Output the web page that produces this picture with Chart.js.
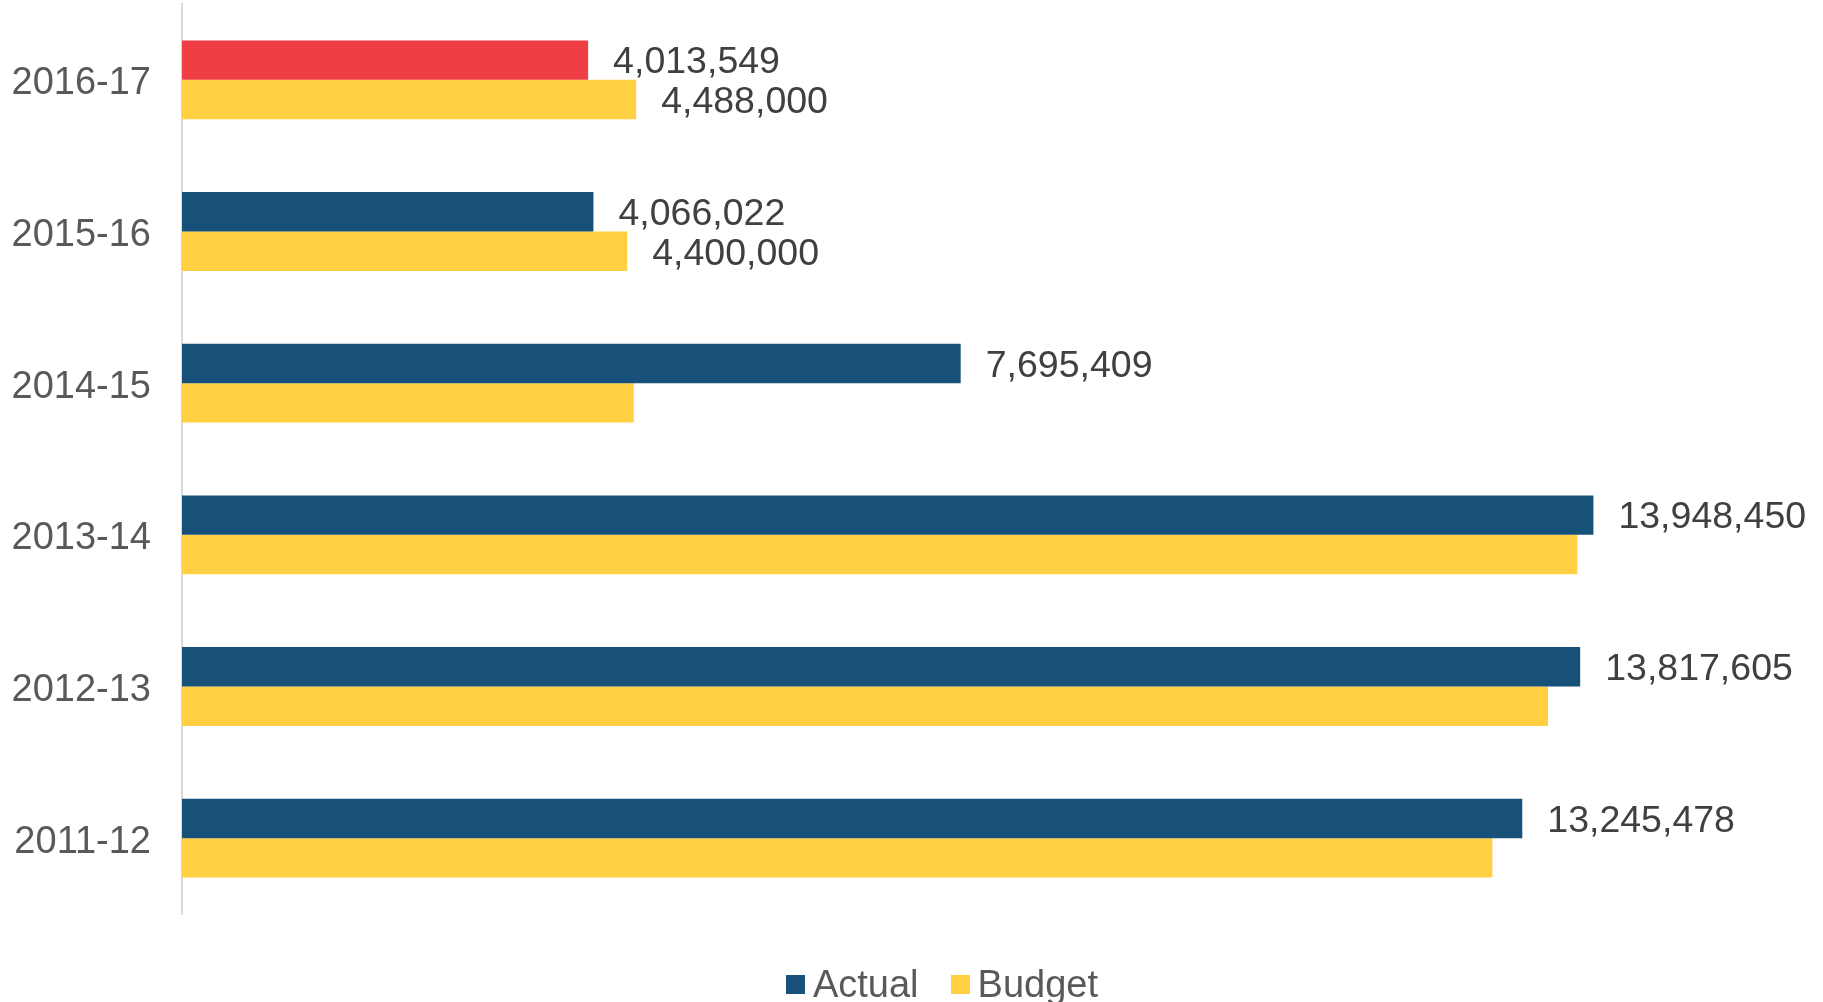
<!DOCTYPE html>
<html>
<head>
<meta charset="utf-8">
<script src="https://cdn.jsdelivr.net/npm/chart.js@4"></script>
<style>
  html, body { margin: 0; padding: 0; background: #fff; overflow: hidden; }
  #chart { position: relative; width: 1823px; height: 1002px; }
  #legend {
    position: absolute; left: 0; right: 0; top: 963px; padding-left: 61px;
    display: flex; justify-content: center; gap: 32px;
    font-family: "Liberation Sans", Arial, sans-serif; font-size: 38px; color: #595959;
  }
  #legend span { display: flex; align-items: center; }
  #legend i { display: inline-block; width: 19px; height: 19px; margin-right: 8px; }
</style>
</head>
<body>
<div id="chart">
  <canvas id="myChart" width="1823" height="1002"></canvas>
  <div id="legend"></div>
</div>
<script>
const years = ["2016-17", "2015-16", "2014-15", "2013-14", "2012-13", "2011-12"];
const actual = [4013549, 4066022, 7695409, 13948450, 13817605, 13245478];
const budget = [4488000, 4400000, 4465000, 13790000, 13500000, 12950000];
const budgetLabelled = [true, true, false, false, false, false];

const navy = "#175079";
const yellow = "#FFD142";
const red = "#EF3E44";
const fontFamily = "'Liberation Sans', Arial, sans-serif";

// value labels to the right of each bar
const valueLabels = {
  id: "valueLabels",
  afterDatasetsDraw(chart) {
    const ctx = chart.ctx;
    ctx.save();
    ctx.font = `37.5px ${fontFamily}`;
    ctx.fillStyle = "#404040";
    ctx.textAlign = "left";
    ctx.textBaseline = "middle";
    chart.data.datasets.forEach((ds, i) => {
      const meta = chart.getDatasetMeta(i);
      meta.data.forEach((bar, j) => {
        if (i === 1 && !budgetLabelled[j]) return;
        ctx.fillText(ds.data[j].toLocaleString("en-US"), bar.x + 25, bar.y + 3);
      });
    });
    ctx.restore();
  },
};

const chartData = {
  labels: years,
  datasets: [
    {
      label: "Actual",
      data: actual,
      backgroundColor: actual.map((v, i) => (i === 0 ? red : navy)),
      legendColor: navy,
    },
    {
      label: "Budget",
      data: budget,
      backgroundColor: yellow,
      legendColor: yellow,
    },
  ],
};

const config = {
  type: "bar",
  data: chartData,
  options: {
    indexAxis: "y",
    responsive: false,
    animation: false,
    datasets: {
      bar: { categoryPercentage: 0.52, barPercentage: 1.0 },
    },
    layout: { padding: { top: 4, right: 22, bottom: 88, left: 0 } },
    scales: {
      x: {
        display: false,
        min: 0,
        max: 16000000,
      },
      y: {
        grid: { display: false },
        border: { display: true, color: "#d9d9d9", width: 2 },
        ticks: {
          color: "#595959",
          padding: 23,
          labelOffset: 4,
          font: { family: fontFamily, size: 38 },
        },
        afterFit: (scale) => {
          scale.width = 182;
          scale.paddingTop = 0;
          scale.paddingBottom = 0;
        },
      },
    },
    plugins: {
      legend: { display: false },
      tooltip: { enabled: false },
    },
  },
  plugins: [valueLabels],
};

const ctx = document.getElementById("myChart").getContext("2d");
const myChart = new Chart(ctx, config);

const legend = document.getElementById("legend");
chartData.datasets.forEach((ds) => {
  const item = document.createElement("span");
  item.innerHTML = `<i style="background:${ds.legendColor}"></i>${ds.label}`;
  legend.appendChild(item);
});
</script>
</body>
</html>
